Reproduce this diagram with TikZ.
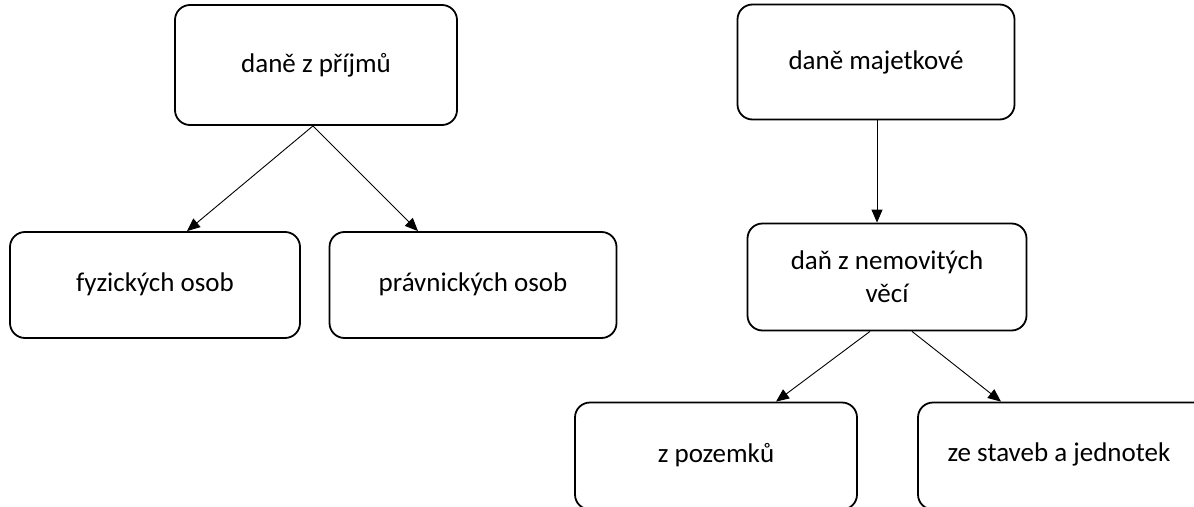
\documentclass[tikz,border=0pt]{standalone}
\usepackage{fontspec}
\setmainfont{Carlito}
\usetikzlibrary{arrows.meta}
\begin{document}
\begin{tikzpicture}[x=1pt,y=-1pt,
  box/.style={draw=black,line width=1.8pt,rounded corners=15pt,fill=white,
    inner sep=0pt,align=center,font=\fontsize{27}{33}\selectfont},
  conn/.style={draw=black,line width=0.9pt,-{Triangle[length=13pt,width=11pt]}}]
\useasboundingbox (0,0) rectangle (1194,506);
\clip (0,0) rectangle (1194,506);
\fill[white] (0,0) rectangle (1194,506);
\node[box,minimum width=282pt,minimum height=120pt] (A) at (316,65) {daně z příjmů};
\node[box,minimum width=290pt,minimum height=106pt] (B) at (155,285) {\raisebox{6pt}{fyzických osob}};
\node[box,minimum width=287pt,minimum height=106pt] (C) at (473,285) {\raisebox{6pt}{právnických osob}};
\node[box,minimum width=277pt,minimum height=115pt] (D) at (876,62) {daně majetkové};
\node[box,minimum width=279pt,minimum height=107pt] (E) at (887,277) {daň z nemovitých\\věcí};
\node[box,minimum width=282pt,minimum height=107pt] (F) at (716,456) {\raisebox{7pt}{z pozemků}};
\node[box,minimum width=310pt,minimum height=107pt] (G) at (1073,456) {\raisebox{7pt}{\hspace*{-28pt}ze staveb a jednotek}};
\draw[conn] ([xshift=-3pt]A.south) -- ([xshift=32pt]B.north);
\draw[conn] ([xshift=-3pt]A.south) -- ([xshift=-55pt]C.north);
\draw[conn] ([xshift=1pt]D.south) -- ([xshift=-10pt]E.north);
\draw[conn] ([xshift=-17pt]E.south) -- ([xshift=60pt]F.north);
\draw[conn] ([xshift=25pt]E.south) -- ([xshift=-72pt]G.north);
\end{tikzpicture}
\end{document}
